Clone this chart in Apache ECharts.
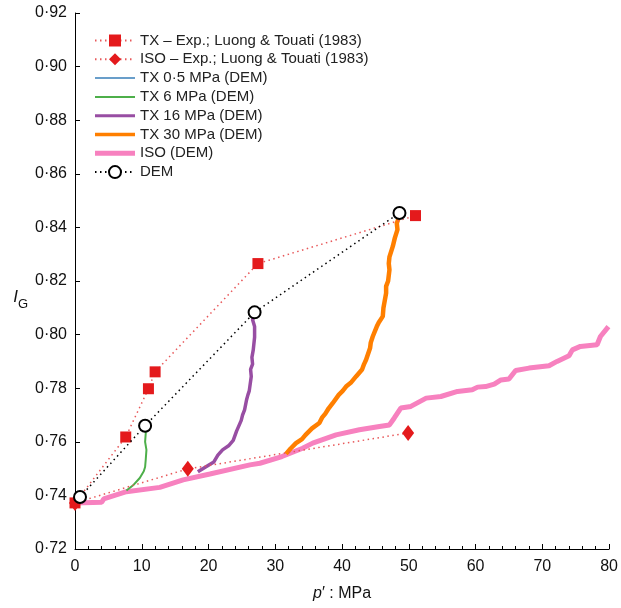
<!DOCTYPE html>
<html>
<head>
<meta charset="utf-8">
<script src="https://cdn.jsdelivr.net/npm/echarts@6/dist/echarts.min.js"></script>
<style>html,body{margin:0;padding:0;background:#fff}#c{width:621px;height:608px}</style>
</head>
<body>
<div id="c"></div>
<script>
// ---- data (p' in MPa, I_G) ----
const txExp = [[0,0.7372],[7.6,0.7618],[11.0,0.7798],[12.0,0.7861],[27.4,0.8265],[51.0,0.8444]];
const isoExp = [[0,0.7372],[16.9,0.7499],[49.9,0.7633]];
const tx05 = [[0.4,0.7376],[0.55,0.7383],[0.65,0.7389],[0.75,0.7394]];
const tx6 = [[7.7,0.7418],[8.8,0.7440],[9.7,0.7465],[10.3,0.7490],[10.5,0.7506],[10.6,0.7535],[10.7,0.7570],[10.5,0.7600],[10.6,0.7633],[10.5,0.7660]];
const tx16 = [[18.4,0.7488],[19.5,0.7505],[20.8,0.7525],[21.4,0.7550],[22.1,0.7570],[23.0,0.7585],[23.7,0.7605],[24.2,0.7640],[24.9,0.7680],[25.1,0.7700],[25.4,0.7719],[25.7,0.7757],[25.9,0.7775],[26.1,0.7790],[26.4,0.7844],[26.3,0.7870],[26.6,0.7890],[26.5,0.7915],[26.7,0.7943],[26.9,0.7990],[26.9,0.8030],[26.6,0.8055],[26.9,0.8080]];
const tx30 = [[31.6,0.7555],[32.3,0.7575],[33.1,0.7595],[34.0,0.7610],[34.5,0.7625],[35.5,0.7650],[36.6,0.7670],[37.0,0.7690],[37.5,0.7705],[38.0,0.7725],[38.6,0.7744],[39.5,0.7775],[40.1,0.7790],[40.6,0.7806],[41.3,0.7820],[42.1,0.7844],[43.0,0.7870],[43.3,0.7890],[43.6,0.7906],[44.2,0.7950],[44.3,0.7970],[44.6,0.7993],[45.2,0.8030],[45.5,0.8045],[46.1,0.8068],[46.2,0.8100],[46.6,0.8155],[46.6,0.8180],[46.9,0.8200],[47.1,0.8242],[47.0,0.8265],[47.1,0.8290],[47.6,0.8329],[47.9,0.8360],[48.3,0.8392],[48.2,0.8415],[48.4,0.8430],[48.6,0.8448]];
const isoDem = [[0,0.7372],[4.0,0.7374],[4.3,0.7387],[7.7,0.7414],[12.7,0.7430],[16.2,0.7458],[20.2,0.7480],[26.2,0.7514],[27.7,0.7520],[31.0,0.7545],[32.5,0.7560],[34.1,0.7576],[35.6,0.7595],[39.1,0.7626],[42.6,0.7645],[45.6,0.7657],[47.1,0.7663],[47.8,0.7688],[48.8,0.7726],[50.3,0.7732],[52.6,0.7763],[54.8,0.7769],[57.3,0.7788],[59.5,0.7794],[60.3,0.7804],[61.5,0.7806],[62.8,0.7815],[63.8,0.7831],[65.0,0.7834],[66.0,0.7866],[68.0,0.7875],[71.0,0.7884],[72.2,0.7900],[74.0,0.7921],[74.5,0.7943],[75.7,0.7956],[78.2,0.7962],[78.7,0.7993],[79.9,0.8030]];
const demPts = [[0.75,0.7394],[10.5,0.7660],[26.9,0.8083],[48.6,0.8454]];
const names = ['TX – Exp.; Luong & Touati (1983)','ISO – Exp.; Luong & Touati (1983)','TX 0·5 MPa (DEM)','TX 6 MPa (DEM)','TX 16 MPa (DEM)','TX 30 MPa (DEM)','ISO (DEM)','DEM'];
const xTicks = {min:0, max:80, step:10};
const yTicks = {min:0.72, max:0.92, step:0.02};

const FONT = '"Liberation Sans", Arial, sans-serif';
const chart = echarts.init(document.getElementById('c'));
const dot = [1.5, 3.5];
const bar = h => 'path://M0,0L40,0L40,' + h + 'L0,' + h + 'Z';
chart.setOption({
  animation: false,
  textStyle: {fontFamily: FONT},
  grid: {left: 75, right: 11, top: 13, bottom: 59},
  legend: {
    orient: 'vertical', left: 94, top: 33, padding: 0, itemWidth: 40, itemHeight: 15, itemGap: 3.8,
    textStyle: {fontSize: 15, lineHeight: 15, color: '#222', fontFamily: FONT},
    data: [
      {name: names[0]}, {name: names[1]},
      {name: names[2], icon: bar(1.5)},
      {name: names[3], icon: bar(2)},
      {name: names[4], icon: bar(3)},
      {name: names[5], icon: bar(3.5)},
      {name: names[6], icon: bar(5)},
      {name: names[7]}
    ]
  },
  xAxis: {
    type: 'value', min: xTicks.min, max: xTicks.max, interval: xTicks.step,
    axisLine: {lineStyle: {color: '#000', width: 1}},
    axisTick: {inside: true, length: 5, lineStyle: {color: '#000'}},
    minorTick: {show: true, splitNumber: 5, length: 3, lineStyle: {color: '#000'}},
    splitLine: {show: false},
    axisLabel: {fontSize: 16, color: '#111', margin: 10, fontFamily: FONT},
    name: '{i|p}′ : MPa', nameLocation: 'middle', nameGap: 37, nameMoveOverlap: false,
    nameTextStyle: {fontSize: 16, color: '#111', fontFamily: FONT, rich: {i: {fontStyle: 'italic', fontSize: 16, fontFamily: FONT}}}
  },
  yAxis: {
    type: 'value', min: yTicks.min, max: yTicks.max, interval: yTicks.step,
    axisLine: {show: true, lineStyle: {color: '#000', width: 1}},
    axisTick: {show: true, inside: true, length: 5, lineStyle: {color: '#000'}},
    splitLine: {show: false},
    axisLabel: {fontSize: 16, color: '#111', margin: 8, fontFamily: FONT,
      formatter: v => v.toFixed(2).replace('.', '·')},
    name: '{i|I}{s|G}', nameLocation: 'middle', nameRotate: 0, nameGap: 47, nameMoveOverlap: false,
    nameTextStyle: {color: '#111', fontFamily: FONT, padding: [38, 0, 0, 0], rich: {
      i: {fontStyle: 'italic', fontSize: 17, fontFamily: FONT, verticalAlign: 'top', lineHeight: 22},
      s: {fontSize: 13, fontFamily: FONT, verticalAlign: 'bottom', lineHeight: 22, padding: [10,0,0,0]}
    }}
  },
  series: [
    {name: names[0], type: 'line', data: txExp, z: 5, symbol: 'rect', symbolSize: 11,
      itemStyle: {color: '#e41a1c'}, lineStyle: {color: '#e8585a', width: 1.5, type: dot}},
    {name: names[1], type: 'line', data: isoExp, z: 5, symbol: 'diamond', symbolSize: [12, 16],
      itemStyle: {color: '#e41a1c'}, lineStyle: {color: '#e8585a', width: 1.5, type: dot}},
    {name: names[2], type: 'line', data: tx05, z: 3, symbol: 'none', showSymbol: false,
      itemStyle: {color: '#377eb8'}, lineStyle: {color: '#377eb8', width: 1.2}},
    {name: names[3], type: 'line', data: tx6, z: 3, symbol: 'none', showSymbol: false,
      itemStyle: {color: '#4daf4a'}, lineStyle: {color: '#4daf4a', width: 2}},
    {name: names[4], type: 'line', data: tx16, z: 3, symbol: 'none', showSymbol: false,
      itemStyle: {color: '#984ea3'}, lineStyle: {color: '#984ea3', width: 3.5}},
    {name: names[5], type: 'line', data: tx30, z: 3, symbol: 'none', showSymbol: false,
      itemStyle: {color: '#ff7f00'}, lineStyle: {color: '#ff7f00', width: 4.5}},
    {name: names[6], type: 'line', data: isoDem, z: 2, symbol: 'none', showSymbol: false,
      itemStyle: {color: '#f781bf'}, lineStyle: {color: '#f781bf', width: 5}},
    {name: names[7], type: 'line', data: demPts, z: 6, symbol: 'emptyCircle', symbolSize: 12,
      itemStyle: {color: '#000', borderColor: '#000', borderWidth: 1.3},
      lineStyle: {color: '#000', width: 1.5, type: dot}}
  ]
});
</script>
</body>
</html>
